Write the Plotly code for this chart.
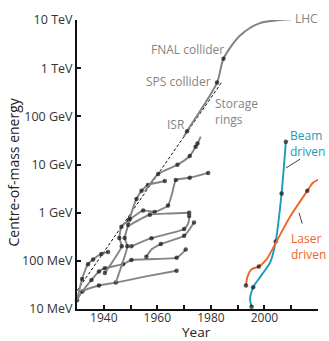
import plotly.graph_objects as go

# ---------------- data (year, centre-of-mass energy in MeV) ----------------
ENVELOPE_YEAR = [1930.0, 1984.2]
ENVELOPE_MEV = [24, 525000]

COLLIDER_YEAR = [1969.9, 1971.1, 1982.3, 1984.7, 1990.8, 1998.3, 2009.9]
COLLIDER_MEV = [37800, 49300, 502000, 1.57e6, 4.69e6, 8.61e6, 1.04e7]

G1_YEAR = [1930.0, 1932.0, 1938.2, 1944.5, 1955.3, 1967.2]
G1_MEV = [15.2, 23.2, 30.8, 35.4, 46.9, 62.1]

G2_YEAR = [1932.0, 1935.4, 1938.2, 1940.4, 1947.2, 1950.3, 1959.0, 1967.2, 1970.6]
G2_MEV = [23.2, 40.2, 60.0, 70.4, 85.0, 104, 109, 116, 171]

G3_YEAR = [1930.0, 1931.9, 1934.1, 1936.0, 1939.1, 1941.6]
G3_MEV = [15.2, 42.1, 85.0, 107, 139, 153]

G4_YEAR = [1940.4, 1946.7, 1945.8, 1946.6, 1949.4, 1954.7, 1959.0, 1964.0, 1965.6, 1966.9, 1972.1, 1979.0]
G4_MEV = [55.7, 200, 298, 510, 697, 1114, 1028, 1406, 2625, 4750, 5300, 6680]

G5_YEAR = [1944.5, 1948.8, 1947.8, 1949.1, 1949.7, 1952.2, 1954.1, 1956.5, 1962.8]
G5_MEV = [35.4, 200, 298, 552, 752, 1920, 2840, 3760, 4540]

G6_YEAR = [1950.3, 1957.8, 1970.0, 1971.6, 1971.9]
G6_MEV = [200, 295, 458, 615, 854]

G7_YEAR = [1949.7, 1957.2, 1964.7, 1971.9]
G7_MEV = [552, 906, 959, 995]

G8_YEAR = [1955.9, 1957.9, 1961.3, 1970.0, 1973.7]
G8_MEV = [122, 174, 223, 330, 624]

STORAGE_YEAR = [1955.3, 1960.3, 1967.5, 1972.1, 1974.3, 1975.0, 1976.2]
STORAGE_MEV = [2750, 6380, 9860, 15000, 23300, 27200, 37800]

BEAM_YEAR = [1995.2, 1994.6, 1995.8, 1998.3, 2002.1, 2004.2, 2006.4, 2008.0]
BEAM_MEV = [11.1, 16.7, 28.4, 45.4, 91.4, 252, 2500, 29500]

LASER_YEAR = [1993.1, 1993.6, 1995.2, 1997.9, 2000.8, 2004.5, 2009.5, 2016.0, 2018.1, 2020.7]
LASER_MEV = [30.8, 45.4, 67.1, 75.9, 107, 252, 815, 2840, 4190, 5050]

BEAM_POINTER_YEAR = [2008.0, 2013.3]
BEAM_POINTER_MEV = [8450, 12900]
LASER_POINTER_YEAR = [2012.9, 2014.1]
LASER_POINTER_MEV = [995, 594]

Y_TICK_VALS = [10, 100, 1e3, 1e4, 1e5, 1e6, 1e7]
Y_TICK_TEXT = ["10 MeV", "100 MeV", "1 GeV", "10 GeV", "100 GeV", "1 TeV", "10 TeV"]
X_TICK_VALS = [1930, 1940, 1950, 1960, 1970, 1980, 1990, 2000, 2010, 2020]
X_TICK_TEXT = ["", "1940", "", "1960", "", "1980", "", "2000", "", "2020"]

# ---------------- style ----------------
GRAY = "#848484"
TEAL = "#1a9cbb"
ORANGE = "#f0652a"
DOT = 4.5
FONT = "Open Sans"

fig = go.Figure()


def series(xs, ys, dots, color, width=1.9, smooth=0.6):
    sizes = [DOT if i in dots else 0 for i in range(len(xs))]
    fig.add_trace(go.Scatter(
        x=xs, y=ys, mode="lines+markers",
        line=dict(color=color, width=width, shape="spline", smoothing=smooth),
        marker=dict(size=sizes, color="#111111", line=dict(width=0)),
        cliponaxis=False, showlegend=False, hoverinfo="skip"))


# dashed envelope
fig.add_trace(go.Scatter(x=ENVELOPE_YEAR, y=ENVELOPE_MEV, mode="lines",
                         line=dict(color="#111111", width=1, dash="3px,2px"),
                         showlegend=False, hoverinfo="skip"))

series(G1_YEAR, G1_MEV, {0, 1, 2, 3, 5}, GRAY)
series(G2_YEAR, G2_MEV, {1, 2, 3, 4, 5, 7, 8}, GRAY)
series(G3_YEAR, G3_MEV, {1, 2, 3, 4, 5}, GRAY)
series(G4_YEAR, G4_MEV, {0, 1, 2, 3, 4, 5, 6, 7, 9, 10, 11}, GRAY, smooth=0.4)
series(G5_YEAR, G5_MEV, {1, 2, 3, 4, 5, 6, 7, 8}, GRAY, smooth=0.4)
series(G6_YEAR, G6_MEV, {0, 1, 2, 4}, GRAY)
series(G7_YEAR, G7_MEV, {1, 3}, GRAY)
series(G8_YEAR, G8_MEV, {0, 2, 3, 4}, GRAY)
series(STORAGE_YEAR, STORAGE_MEV, {1, 2, 3, 4, 5}, GRAY)
series(COLLIDER_YEAR, COLLIDER_MEV, {1, 2, 3, 6}, GRAY, width=2.0, smooth=0.8)
series(BEAM_YEAR, BEAM_MEV, {0, 2, 5, 6, 7}, TEAL, smooth=0.6)
series(LASER_YEAR, LASER_MEV, {0, 3, 7, 9}, ORANGE, smooth=0.7)

for px_, py_ in [(BEAM_POINTER_YEAR, BEAM_POINTER_MEV), (LASER_POINTER_YEAR, LASER_POINTER_MEV)]:
    fig.add_trace(go.Scatter(x=px_, y=py_, mode="lines",
                             line=dict(color="#444444", width=1),
                             cliponaxis=False, showlegend=False, hoverinfo="skip"))

# plot area in pixels: x 77..318, y 14..309
def PX(x):
    return (x - 77) / 241.0


def PY(y):
    return (309 - y) / 295.0


def label(text, x, y, color, anchor="left", size=12):
    fig.add_annotation(text=text, x=PX(x), y=PY(y), xref="paper", yref="paper",
                       xanchor=anchor, yanchor="middle", showarrow=False, align=anchor,
                       font=dict(family=FONT, size=size, color=color))


label("LHC", 293, 12.5, GRAY)
label("FNAL collider", 226, 44, GRAY, "right")
label("SPS collider", 213, 77, GRAY, "right")
label("ISR", 187, 121, GRAY, "right")
label("Storage<br>rings", 213, 107, GRAY)
label("Beam<br>driven", 288, 140, TEAL)
label("Laser<br>driven", 289, 245, ORANGE)

fig.add_annotation(text="Centre-of-mass energy", x=PX(13.7), y=PY(169), xref="paper", yref="paper",
                   textangle=-90, showarrow=False, xanchor="center", yanchor="middle",
                   font=dict(family=FONT, size=14, color="#222222"))
fig.add_annotation(text="Year", x=PX(196), y=PY(332), xref="paper", yref="paper",
                   showarrow=False, xanchor="center", yanchor="middle",
                   font=dict(family=FONT, size=13.5, color="#222222"))

fig.update_xaxes(range=[1930, 2020], tickvals=X_TICK_VALS, ticktext=X_TICK_TEXT,
                 ticks="inside", ticklen=4, tickwidth=1.5, tickcolor="#111111",
                 showline=True, linecolor="#111111", linewidth=2,
                 showgrid=False, zeroline=False, ticklabelstandoff=-3,
                 tickfont=dict(family=FONT, size=12, color="#333333"))
fig.update_yaxes(type="log", range=[1, 7], tickvals=Y_TICK_VALS, ticktext=Y_TICK_TEXT,
                 ticks="inside", ticklen=4, tickwidth=1.5, tickcolor="#111111",
                 showline=True, linecolor="#111111", linewidth=2,
                 showgrid=False, zeroline=False,
                 tickfont=dict(family=FONT, size=12.5, color="#333333"))

fig.update_layout(width=329, height=341, margin=dict(l=77, r=11, t=14, b=32),
                  paper_bgcolor="white", plot_bgcolor="white", showlegend=False)

fig.write_html("out.html")
